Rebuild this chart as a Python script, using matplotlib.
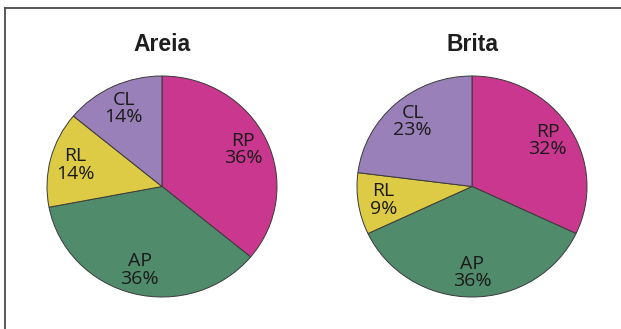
import matplotlib
matplotlib.use("Agg")
import matplotlib.pyplot as plt
from matplotlib.lines import Line2D

# Composition shares (%) for the two aggregates
categories = ["RP", "AP", "RL", "CL"]
areia_values = [36, 36, 14, 14]
brita_values = [32, 36, 9, 23]
titles = ["Areia", "Brita"]

colors = ["#C9378F", "#508B6B", "#DECB45", "#9A80B8"]

fig = plt.figure(figsize=(6.21, 3.29), dpi=100)
fig.patch.set_facecolor("white")

W, H = 621.0, 329.0
axes_boxes = [
    (47 / W, (H - 297) / H, 230 / W, 221 / H),
    (357 / W, (H - 297) / H, 230 / W, 221 / H),
]

for box, title, values in zip(axes_boxes, titles, [areia_values, brita_values]):
    ax = fig.add_axes(box)
    labels = [f"{c}\n{v}%" for c, v in zip(categories, values)]
    wedges, texts = ax.pie(
        values,
        labels=labels,
        colors=colors,
        startangle=90,
        counterclock=False,
        labeldistance=0.78,
        wedgeprops=dict(edgecolor="#3a3a3a", linewidth=0.7),
        textprops=dict(fontfamily="Open Sans", fontsize=14, color="#1a1a1a",
                       linespacing=0.95),
    )
    for t in texts:
        t.set_ha("center")
        t.set_va("center")
    ax.set_aspect("auto")
    ax.set_xlim(-1.0, 1.0)
    ax.set_ylim(-1.0, 1.0)
    ax.axis("off")

    cx = box[0] + box[2] / 2
    fig.text(cx, 1 - 51 / H, title, ha="center", va="baseline",
             fontfamily="Liberation Sans", fontweight="bold", fontsize=16.5,
             color="#1e1e1e")

# Frame lines along the top and left edges
fig.add_artist(Line2D([4.5 / W, 1.0], [1 - 7.5 / H, 1 - 7.5 / H],
                      transform=fig.transFigure, color="#4a4a4a", linewidth=1.3))
fig.add_artist(Line2D([4.5 / W, 4.5 / W], [0.0, 1 - 7.5 / H],
                      transform=fig.transFigure, color="#4a4a4a", linewidth=1.3))

fig.savefig("out.png", dpi=100, facecolor="white")
